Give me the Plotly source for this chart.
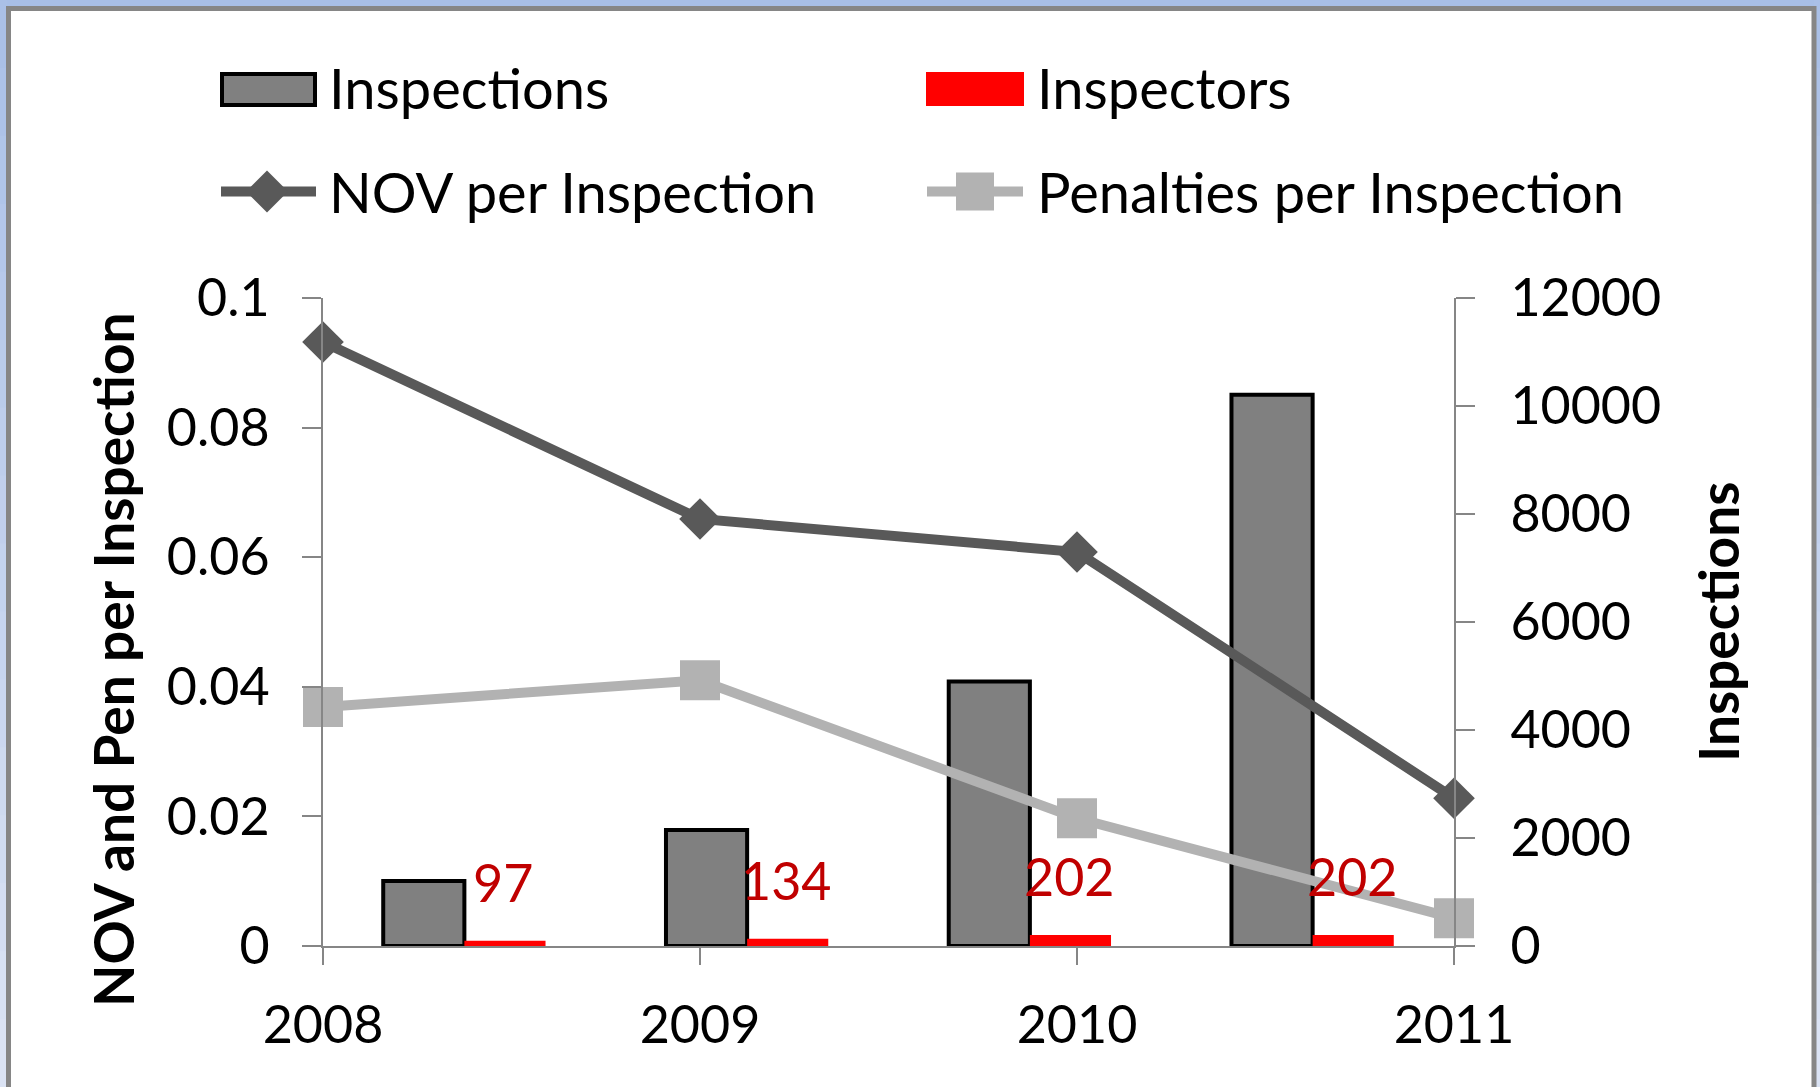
import plotly.graph_objects as go

# ---------------- data ----------------
years = ["2008", "2009", "2010", "2011"]
inspections = [1205, 2150, 4900, 10210]
inspectors = [97, 134, 202, 202]
nov_per_inspection = [0.0932, 0.0659, 0.0608, 0.0228]
pen_per_inspection = [0.0369, 0.0410, 0.0197, 0.0043]
left_tickvals = [0, 0.02, 0.04, 0.06, 0.08, 0.1]
left_ticktext = ["0", "0.02", "0.04", "0.06", "0.08", "0.1"]
right_tickvals = [0, 2000, 4000, 6000, 8000, 10000, 12000]
right_ticktext = ["0", "2000", "4000", "6000", "8000", "10000", "12000"]

# ---------------- layout geometry (pixels) ----------------
W_FIG, H_FIG = 1820, 1087
L, R, T, B = 323, 366, 298, 141
PW = W_FIG - L - R
PH = H_FIG - T - B

def px(x):
    return (x - L) / PW

def py(y):
    return (H_FIG - B - y) / PH

FONT = "Lato"
FS_TICK = 52
FS_LEG = 56
FS_TITLE = 55
AXIS_GREY = "#868686"
DARK = "#595959"
LIGHT = "#B2B2B2"
LW = 10

fig = go.Figure()

# bars on base subplot (x, y) -> y is the right "Inspections" axis
fig.add_trace(go.Bar(
    x=years, y=inspections, name="Inspections",
    marker=dict(color="#808080", line=dict(color="black", width=4)),
    xaxis="x", yaxis="y", showlegend=False,
))
fig.add_trace(go.Bar(
    x=years, y=inspectors, name="Inspectors",
    marker=dict(color="#FF0000", line=dict(width=0)),
    xaxis="x", yaxis="y", showlegend=False,
))

# lines on overlay subplot (x2, y2) -> y2 is the left axis
fig.add_trace(go.Scatter(
    x=years, y=nov_per_inspection, name="NOV per Inspection",
    mode="lines+markers", line=dict(color=DARK, width=LW),
    marker=dict(symbol="diamond", size=32, color=DARK),
    xaxis="x2", yaxis="y2", cliponaxis=False, showlegend=False,
))
fig.add_trace(go.Scatter(
    x=years, y=pen_per_inspection, name="Penalties per Inspection",
    mode="lines+markers", line=dict(color=LIGHT, width=LW),
    marker=dict(symbol="square", size=40, color=LIGHT),
    xaxis="x2", yaxis="y2", cliponaxis=False, showlegend=False,
))

annotations = []
# inspector data labels (category index on the bar axis)
for i, v in enumerate(inspectors):
    annotations.append(dict(
        x=i, y=v, xref="x", yref="y", text=str(v), showarrow=False,
        xanchor="center", yanchor="bottom", xshift=39, yshift=26,
        font=dict(family=FONT, size=FS_TICK, color="#C00000"),
    ))

# axis titles
annotations.append(dict(
    x=px(113), y=py(660), xref="paper", yref="paper",
    text="<b>NOV and Pen per Inspection</b>", textangle=-90, showarrow=False,
    xanchor="center", yanchor="middle", font=dict(family=FONT, size=FS_TITLE, color="black"),
))
annotations.append(dict(
    x=px(1718), y=py(622), xref="paper", yref="paper",
    text="<b>Inspections</b>", textangle=-90, showarrow=False,
    xanchor="center", yanchor="middle", font=dict(family=FONT, size=FS_TITLE, color="black"),
))

# legend texts
legend_items = [
    ("Inspections", 327, 88),
    ("Inspectors", 1035, 88),
    ("NOV per Inspection", 327, 191.5),
    ("Penalties per Inspection", 1035, 191.5),
]
for txt, lx, ly in legend_items:
    annotations.append(dict(
        x=px(lx), y=py(ly), xref="paper", yref="paper", text=txt, showarrow=False,
        xanchor="left", yanchor="middle", font=dict(family=FONT, size=FS_LEG, color="black"),
    ))

shapes = []
# window-style side bands with a soft vertical gradient
top_rgb = (168, 191, 231)
bot_rgb = (221, 228, 244)
N = 16
for k in range(N):
    t = (k + 0.5) / N
    c = tuple(round(a + (b - a) * t) for a, b in zip(top_rgb, bot_rgb))
    col = "rgb(%d,%d,%d)" % c
    y0p, y1p = k * H_FIG / N, (k + 1) * H_FIG / N + 1
    for x0p, x1p in ((0, 7), (1814, 1820)):
        shapes.append(dict(type="rect", xref="paper", yref="paper", layer="below",
                           x0=px(x0p), x1=px(x1p), y0=py(y1p), y1=py(y0p),
                           fillcolor=col, line=dict(width=0)))
# chart frame
shapes.append(dict(
    type="rect", xref="paper", yref="paper", layer="below",
    x0=px(8.5), x1=px(1814), y0=py(8.5), y1=py(1110),
    fillcolor="white", line=dict(color="#868686", width=5),
))
# legend symbols
shapes.append(dict(type="rect", xref="paper", yref="paper",
                   x0=px(222), x1=px(315), y0=py(74), y1=py(105),
                   fillcolor="#808080", line=dict(color="black", width=4)))
shapes.append(dict(type="rect", xref="paper", yref="paper",
                   x0=px(926), x1=px(1024), y0=py(72), y1=py(106),
                   fillcolor="#FF0000", line=dict(width=0)))
shapes.append(dict(type="line", xref="paper", yref="paper",
                   x0=px(221), x1=px(316), y0=py(191.5), y1=py(191.5),
                   line=dict(color=DARK, width=LW)))
cx, cy, h = 267, 191.5, 21
shapes.append(dict(type="path", xref="paper", yref="paper",
                   path=f"M{px(cx)},{py(cy - h)} L{px(cx + h)},{py(cy)} L{px(cx)},{py(cy + h)} L{px(cx - h)},{py(cy)} Z",
                   fillcolor=DARK, line=dict(width=0)))
shapes.append(dict(type="line", xref="paper", yref="paper",
                   x0=px(927), x1=px(1023), y0=py(191.5), y1=py(191.5),
                   line=dict(color=LIGHT, width=LW)))
sx, sy, s = 975, 191.5, 19
shapes.append(dict(type="rect", xref="paper", yref="paper",
                   x0=px(sx - s), x1=px(sx + s), y0=py(sy - s), y1=py(sy + s),
                   fillcolor=LIGHT, line=dict(width=0)))

tickfont = dict(family=FONT, size=FS_TICK, color="black")

fig.update_layout(
    width=W_FIG, height=H_FIG,
    margin=dict(l=L, r=R, t=T, b=B, pad=0),
    paper_bgcolor="rgb(168,191,231)",
    plot_bgcolor="rgba(0,0,0,0)",
    barmode="group", bargap=0.426, bargroupgap=0,
    showlegend=False,
    xaxis=dict(type="category", range=[-0.5, 3.5], showticklabels=False,
               showline=False, ticks="", showgrid=False, zeroline=False),
    xaxis2=dict(type="category", overlaying="x", side="bottom", range=[0, 3],
                showline=True, linecolor=AXIS_GREY, linewidth=2,
                ticks="outside", ticklen=17, tickwidth=2, tickcolor=AXIS_GREY,
                showgrid=False, zeroline=False, tickfont=tickfont,
                ticklabelstandoff=16),
    yaxis=dict(side="right", range=[0, 12000], tickvals=right_tickvals, ticktext=right_ticktext,
               showline=True, linecolor=AXIS_GREY, linewidth=2,
               ticks="outside", ticklen=19, tickwidth=2, tickcolor=AXIS_GREY,
               showgrid=False, zeroline=False, tickfont=tickfont, ticklabelstandoff=25),
    yaxis2=dict(side="left", overlaying="y", range=[0, 0.1], tickvals=left_tickvals, ticktext=left_ticktext,
                showline=True, linecolor=AXIS_GREY, linewidth=2,
                ticks="outside", ticklen=19, tickwidth=2, tickcolor=AXIS_GREY,
                showgrid=False, zeroline=False, tickfont=tickfont, ticklabelstandoff=22),
    annotations=annotations,
    shapes=shapes,
)

fig.write_html(
    "out.html",
    config={"displayModeBar": False},
    post_script="document.body.style.margin='0';document.body.style.background='rgb(168,191,231)';",
)
